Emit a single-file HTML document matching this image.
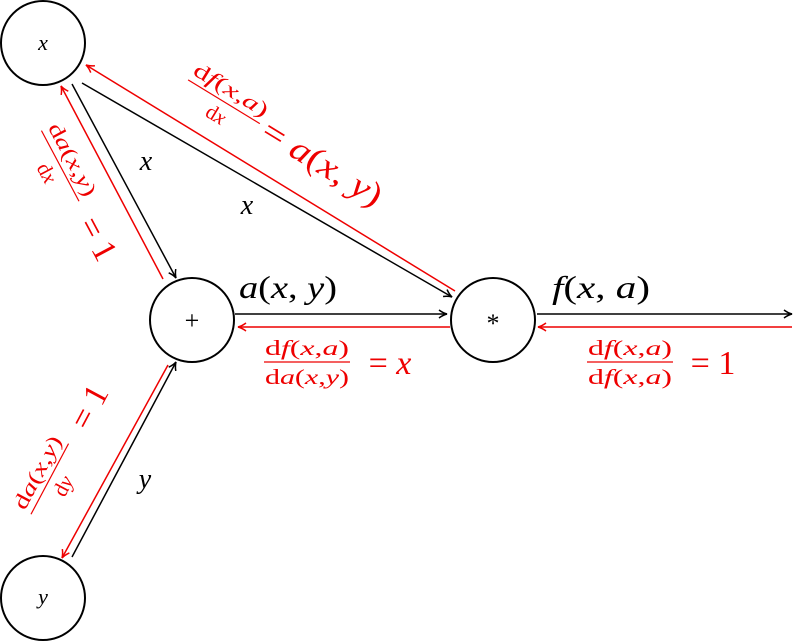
<!DOCTYPE html>
<html><head><style>body{margin:0;background:#fff}svg{display:block}
text{font-family:"Liberation Serif",serif}
.i{font-style:italic}
</style></head><body>
<svg width="794" height="642" viewBox="0 0 794 642" xmlns="http://www.w3.org/2000/svg">
<defs>
<marker id="ab" markerWidth="10" markerHeight="10" refX="9" refY="5" orient="auto" markerUnits="userSpaceOnUse"><path d="M1,1 Q5,4 9,5 Q5,6 1,9" fill="none" stroke="#000" stroke-width="1.5"/></marker>
<marker id="ar" markerWidth="10" markerHeight="10" refX="9" refY="5" orient="auto" markerUnits="userSpaceOnUse"><path d="M1,1 Q5,4 9,5 Q5,6 1,9" fill="none" stroke="#e00" stroke-width="1.5"/></marker>
</defs>
<g fill="none" stroke="#000" stroke-width="2">
<circle cx="43" cy="43" r="42"/>
<circle cx="192" cy="320" r="42"/>
<circle cx="493" cy="320" r="42"/>
<circle cx="43" cy="598" r="42"/>
</g>
<g stroke="#000" stroke-width="1.5">
<line x1="72" y1="84" x2="176" y2="278" marker-end="url(#ab)"/>
<line x1="82" y1="83" x2="452" y2="297" marker-end="url(#ab)"/>
<line x1="235" y1="314" x2="447" y2="314" marker-end="url(#ab)"/>
<line x1="537" y1="314" x2="792" y2="314" marker-end="url(#ab)"/>
<line x1="72" y1="557" x2="176" y2="362" marker-end="url(#ab)"/>
</g>
<g stroke="#e00" stroke-width="1.5">
<line x1="163" y1="279" x2="61" y2="86" marker-end="url(#ar)"/>
<line x1="455" y1="291" x2="86" y2="65" marker-end="url(#ar)"/>
<line x1="450" y1="327" x2="238" y2="327" marker-end="url(#ar)"/>
<line x1="792" y1="327" x2="538" y2="327" marker-end="url(#ar)"/>
<line x1="168" y1="365" x2="62" y2="558" marker-end="url(#ar)"/>
</g>
<g font-size="22" text-anchor="middle">
<text x="43" y="50" class="i">x</text>
<text x="192" y="329" font-size="26">+</text>
<text x="493" y="332" font-size="26">*</text>
<text x="43" y="604" class="i">y</text>
<text x="146" y="170" font-size="28" class="i">x</text>
<text x="247" y="214" font-size="28" class="i">x</text>
<text x="145" y="488" font-size="28" class="i">y</text>
<text x="288" y="298" font-size="32" textLength="98" lengthAdjust="spacingAndGlyphs"><tspan class="i">a</tspan>(<tspan class="i">x</tspan>, <tspan class="i">y</tspan>)</text>
<text x="601" y="298" font-size="32" textLength="98" lengthAdjust="spacingAndGlyphs"><tspan class="i">f</tspan>(<tspan class="i">x</tspan>, <tspan class="i">a</tspan>)</text>
</g>
<g fill="#e00" font-size="21" text-anchor="middle">
<text x="307" y="355" textLength="84" lengthAdjust="spacingAndGlyphs">d<tspan class="i">f</tspan>(<tspan class="i">x</tspan>,<tspan class="i">a</tspan>)</text>
<line x1="264" y1="362" x2="350" y2="362" stroke="#e00" stroke-width="1.2"/>
<text x="307" y="384" textLength="84" lengthAdjust="spacingAndGlyphs">d<tspan class="i">a</tspan>(<tspan class="i">x</tspan>,<tspan class="i">y</tspan>)</text>
<text x="390" y="374" font-size="34">= <tspan class="i">x</tspan></text>
<text x="630" y="355" textLength="84" lengthAdjust="spacingAndGlyphs">d<tspan class="i">f</tspan>(<tspan class="i">x</tspan>,<tspan class="i">a</tspan>)</text>
<line x1="587" y1="362" x2="673" y2="362" stroke="#e00" stroke-width="1.2"/>
<text x="630" y="384" textLength="84" lengthAdjust="spacingAndGlyphs">d<tspan class="i">f</tspan>(<tspan class="i">x</tspan>,<tspan class="i">a</tspan>)</text>
<text x="713" y="374" font-size="34">= 1</text>
<g transform="translate(225,100) rotate(31.4)">
<text x="0" y="-5" textLength="84" lengthAdjust="spacingAndGlyphs">d<tspan class="i">f</tspan>(<tspan class="i">x</tspan>,<tspan class="i">a</tspan>)</text>
<line x1="-42" y1="2" x2="42" y2="2" stroke="#e00" stroke-width="1.2"/>
<text x="0" y="24">d<tspan class="i">x</tspan></text>
<text x="116" y="14" font-size="34" textLength="135" lengthAdjust="spacingAndGlyphs">= <tspan class="i">a</tspan>(<tspan class="i">x</tspan>, <tspan class="i">y</tspan>)</text>
</g>
<g transform="translate(62,165) rotate(62)">
<text x="0" y="-5" textLength="80" lengthAdjust="spacingAndGlyphs">d<tspan class="i">a</tspan>(<tspan class="i">x</tspan>,<tspan class="i">y</tspan>)</text>
<line x1="-40" y1="2" x2="40" y2="2" stroke="#e00" stroke-width="1.2"/>
<text x="0" y="24">d<tspan class="i">x</tspan></text>
<text x="82" y="14" font-size="34">= 1</text>
</g>
<g transform="translate(48,478) rotate(-62)">
<text x="0" y="-5" textLength="80" lengthAdjust="spacingAndGlyphs">d<tspan class="i">a</tspan>(<tspan class="i">x</tspan>,<tspan class="i">y</tspan>)</text>
<line x1="-40" y1="2" x2="40" y2="2" stroke="#e00" stroke-width="1.2"/>
<text x="0" y="24">d<tspan class="i">y</tspan></text>
<text x="82" y="14" font-size="34">= 1</text>
</g>
</g>
</svg>
</body></html>
